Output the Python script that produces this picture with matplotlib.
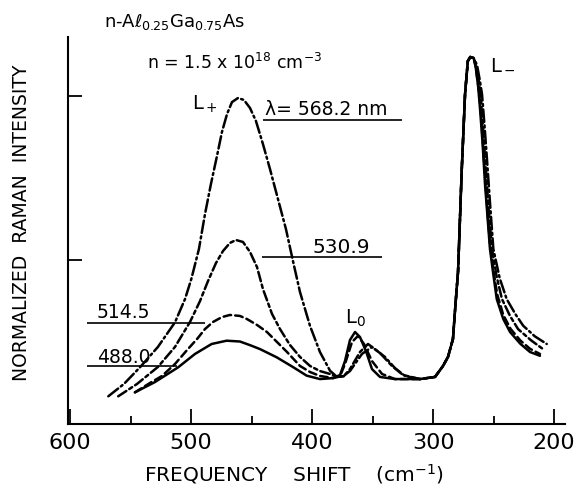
import matplotlib
matplotlib.use("Agg")
import matplotlib.pyplot as plt

plt.rcParams['font.family'] = ['DejaVu Sans']
plt.rcParams['mathtext.fontset'] = 'dejavusans'
plt.rcParams['lines.scale_dashes'] = False

# ---------------- data ----------------
# shared rising edge of the L- peak (all spectra normalised there)
rise_f = [291.8, 287.7, 283.6, 281.5, 279.4, 277.9, 276.4, 273.6, 271.3, 269.3, 266.5]
rise_i = [0.354, 0.409, 0.518, 0.73, 0.927, 1.23, 1.537, 2.012, 2.213, 2.238, 2.232]

# lambda = 568.2 nm
f_568 = [568.4, 555.5, 542.2, 527.4, 513.3, 505.0, 499.8, 493.5, 488.5, 483.6, 478.6, 474.5,
         470.3, 466.2, 461.2, 456.3, 451.3, 446.4, 440.6, 434.8, 428.2, 421.6, 415.8,
         410.0, 401.7, 393.5, 385.2, 379.4, 374, 368.7, 358.8, 350.5, 339.8, 331.5,
         323.2, 310.8, 298.4]
i_568 = [0.169, 0.244, 0.346, 0.470, 0.620, 0.762, 0.884, 1.067, 1.280, 1.463, 1.634, 1.780,
         1.890, 1.963, 1.988, 1.976, 1.927, 1.848, 1.707, 1.555, 1.372, 1.189, 0.994,
         0.805, 0.598, 0.439, 0.325, 0.287, 0.293, 0.323, 0.427, 0.470, 0.409, 0.341,
         0.293, 0.274, 0.287]
tail_f_568 = [263.7, 261.5, 259.6, 257.5, 255.5, 252.8, 250.2, 245.0, 239.2, 232, 225.5, 216, 206.1]
tail_i_568 = [2.189, 2.10, 2.012, 1.82, 1.616, 1.33, 1.067, 0.890, 0.762, 0.67, 0.599, 0.535, 0.488]

# lambda = 530.9 nm
f_531 = [560.2, 544.7, 527.4, 513.3, 500.9, 492.6, 486.0, 479.4, 473.6, 467.9, 462.9, 457.1,
         451.3, 445.5, 440.6, 433.1, 426.5, 418.3, 410.0, 401.7, 393.5, 385.2, 379.4,
         374, 368.7, 360.4, 353.8, 343.9, 334, 324.9, 310.8, 298.4]
i_531 = [0.169, 0.244, 0.348, 0.470, 0.622, 0.750, 0.872, 0.982, 1.055, 1.104, 1.122, 1.110,
         1.049, 0.957, 0.823, 0.671, 0.579, 0.482, 0.409, 0.354, 0.323, 0.305, 0.287,
         0.290, 0.335, 0.439, 0.488, 0.433, 0.354, 0.299, 0.274, 0.287]
tail_f_531 = [264.3, 262, 260.4, 258.3, 256.3, 254, 251.3, 247.5, 243.1, 236.5, 229.8, 219, 209.2]
tail_i_531 = [2.185, 2.08, 1.97, 1.76, 1.54, 1.30, 1.067, 0.90, 0.762, 0.66, 0.579, 0.51, 0.457]

# lambda = 514.5 nm
f_515 = [546.4, 534.0, 524.0, 513.3, 502.6, 495.1, 488.5, 481.9, 474.5, 467.9, 459.6, 453.8,
         445.5, 437.3, 429.0, 420.7, 410.0, 401.7, 393.5, 382.6, 377, 372.8, 367.0,
         362.1, 357.1, 350.5, 342.2, 331.5, 310.8, 298.4]
i_515 = [0.193, 0.250, 0.293, 0.366, 0.457, 0.518, 0.579, 0.622, 0.652, 0.665, 0.659, 0.640,
         0.604, 0.561, 0.500, 0.439, 0.354, 0.317, 0.293, 0.280, 0.290, 0.366, 0.500,
         0.537, 0.488, 0.384, 0.305, 0.274, 0.274, 0.287]
tail_f_515 = [264.8, 262.8, 261, 259, 257, 255, 253, 250, 247, 242, 236, 228, 220, 211.7]
tail_i_515 = [2.18, 2.07, 1.94, 1.73, 1.50, 1.29, 1.10, 0.93, 0.79, 0.665, 0.58, 0.51, 0.459, 0.427]

# lambda = 488.0 nm
f_488 = [546.4, 529.8, 510.6, 496.8, 483.0, 470.6, 459.6, 451, 443.1, 429.3, 415.5, 404.5,
         393.5, 382.5, 376.9, 372.8, 368.7, 364.5, 360.4, 355.5, 350.5, 343.9, 331.5,
         310.8, 298.4]
i_488 = [0.193, 0.256, 0.346, 0.427, 0.488, 0.508, 0.503, 0.48, 0.457, 0.407, 0.346, 0.295,
         0.274, 0.280, 0.299, 0.384, 0.512, 0.561, 0.530, 0.445, 0.335, 0.287, 0.274,
         0.274, 0.287]
tail_f_488 = [264.8, 262.8, 261.2, 259, 257.1, 255, 253, 250, 247.4, 242, 236.4, 228, 219.9, 211.7]
tail_i_488 = [2.177, 2.06, 1.921, 1.70, 1.463, 1.26, 1.067, 0.90, 0.762, 0.64, 0.561, 0.49, 0.439, 0.416]

x_ticks = [600, 500, 400, 300, 200]
x_minor = [550, 450, 350, 250]
y_ticks = [1, 2]

# ---------------- figure ----------------
fig = plt.figure(figsize=(5.78, 4.89), dpi=100)
ax = fig.add_axes([68/578, (489-425)/489, (565-68)/578, 387/489])

lw = 1.8
styles = [
    (f_568, i_568, tail_f_568, tail_i_568, (0, (9, 2.5, 1.5, 2.5))),
    (f_531, i_531, tail_f_531, tail_i_531, (0, (7, 2.5, 2.5, 2.5))),
    (f_515, i_515, tail_f_515, tail_i_515, (0, (5.5, 3))),
    (f_488, i_488, tail_f_488, tail_i_488, '-'),
]
for fa, ia, tf, ti, ls in styles:
    xs = fa + rise_f + tf
    ys = ia + rise_i + ti
    ax.plot(xs, ys, color='black', lw=lw, linestyle=ls, solid_capstyle='round',
            dash_capstyle='round', solid_joinstyle='round')

ax.set_xlim(601.7, 191)
ax.set_ylim(0, 2.36)

for s in ['top', 'right']:
    ax.spines[s].set_visible(False)
for s in ['left', 'bottom']:
    ax.spines[s].set_linewidth(1.5)

ax.set_xticks(x_ticks)
ax.set_xticks(x_minor, minor=True)
ax.set_yticks(y_ticks)
ax.set_yticklabels([])
ax.tick_params(axis='x', which='major', direction='in', length=11, width=1.3,
               labelsize=16, pad=6)
ax.tick_params(axis='x', which='minor', direction='in', length=6, width=1.3)
ax.tick_params(axis='y', which='major', direction='in', length=10, width=1.3)

ax.set_xlabel('FREQUENCY    SHIFT    (cm$^{-1}$)', fontsize=14.5)
ax.xaxis.set_label_coords((294-68)/497, (425-474)/387)
ax.xaxis.label.set_va('center')
ax.set_ylabel('NORMALIZED  RAMAN  INTENSITY', fontsize=13.5)
ax.yaxis.set_label_coords((22-68)/497, (425-223)/387)
ax.yaxis.label.set_va('center')

# texts
ax.text(514, 2.457, r'n-A$\ell_{0.25}$Ga$_{0.75}$As', fontsize=13, ha='center', va='center')
ax.text(464.5, 2.207, r'n = 1.5 x 10$^{18}$ cm$^{-3}$', fontsize=12.5, ha='center', va='center')
ax.text(438.9, 1.927, 'λ= 568.2 nm', fontsize=13.5, ha='left', va='center')
ax.hlines(1.855, 440.6, 325.7, color='black', lw=1.2)
ax.text(399.3, 1.082, '530.9', fontsize=14.5, ha='left', va='center')
ax.hlines(1.016, 441.7, 342.5, color='black', lw=1.2)
ax.text(578.0, 0.683, '514.5', fontsize=13.5, ha='left', va='center')
ax.hlines(0.616, 586.3, 488.5, color='black', lw=1.2)
ax.text(578.0, 0.409, '488.0', fontsize=13.5, ha='left', va='center')
ax.hlines(0.352, 586.3, 511.9, color='black', lw=1.2)
ax.text(499.3, 1.957, 'L$_+$', fontsize=14, ha='left', va='center')
ax.text(372.8, 0.652, 'L$_0$', fontsize=14, ha='left', va='center')
ax.text(253, 2.207, 'L$_-$', fontsize=14, ha='left', va='center')

fig.savefig('out.png', dpi=100, facecolor='white')
